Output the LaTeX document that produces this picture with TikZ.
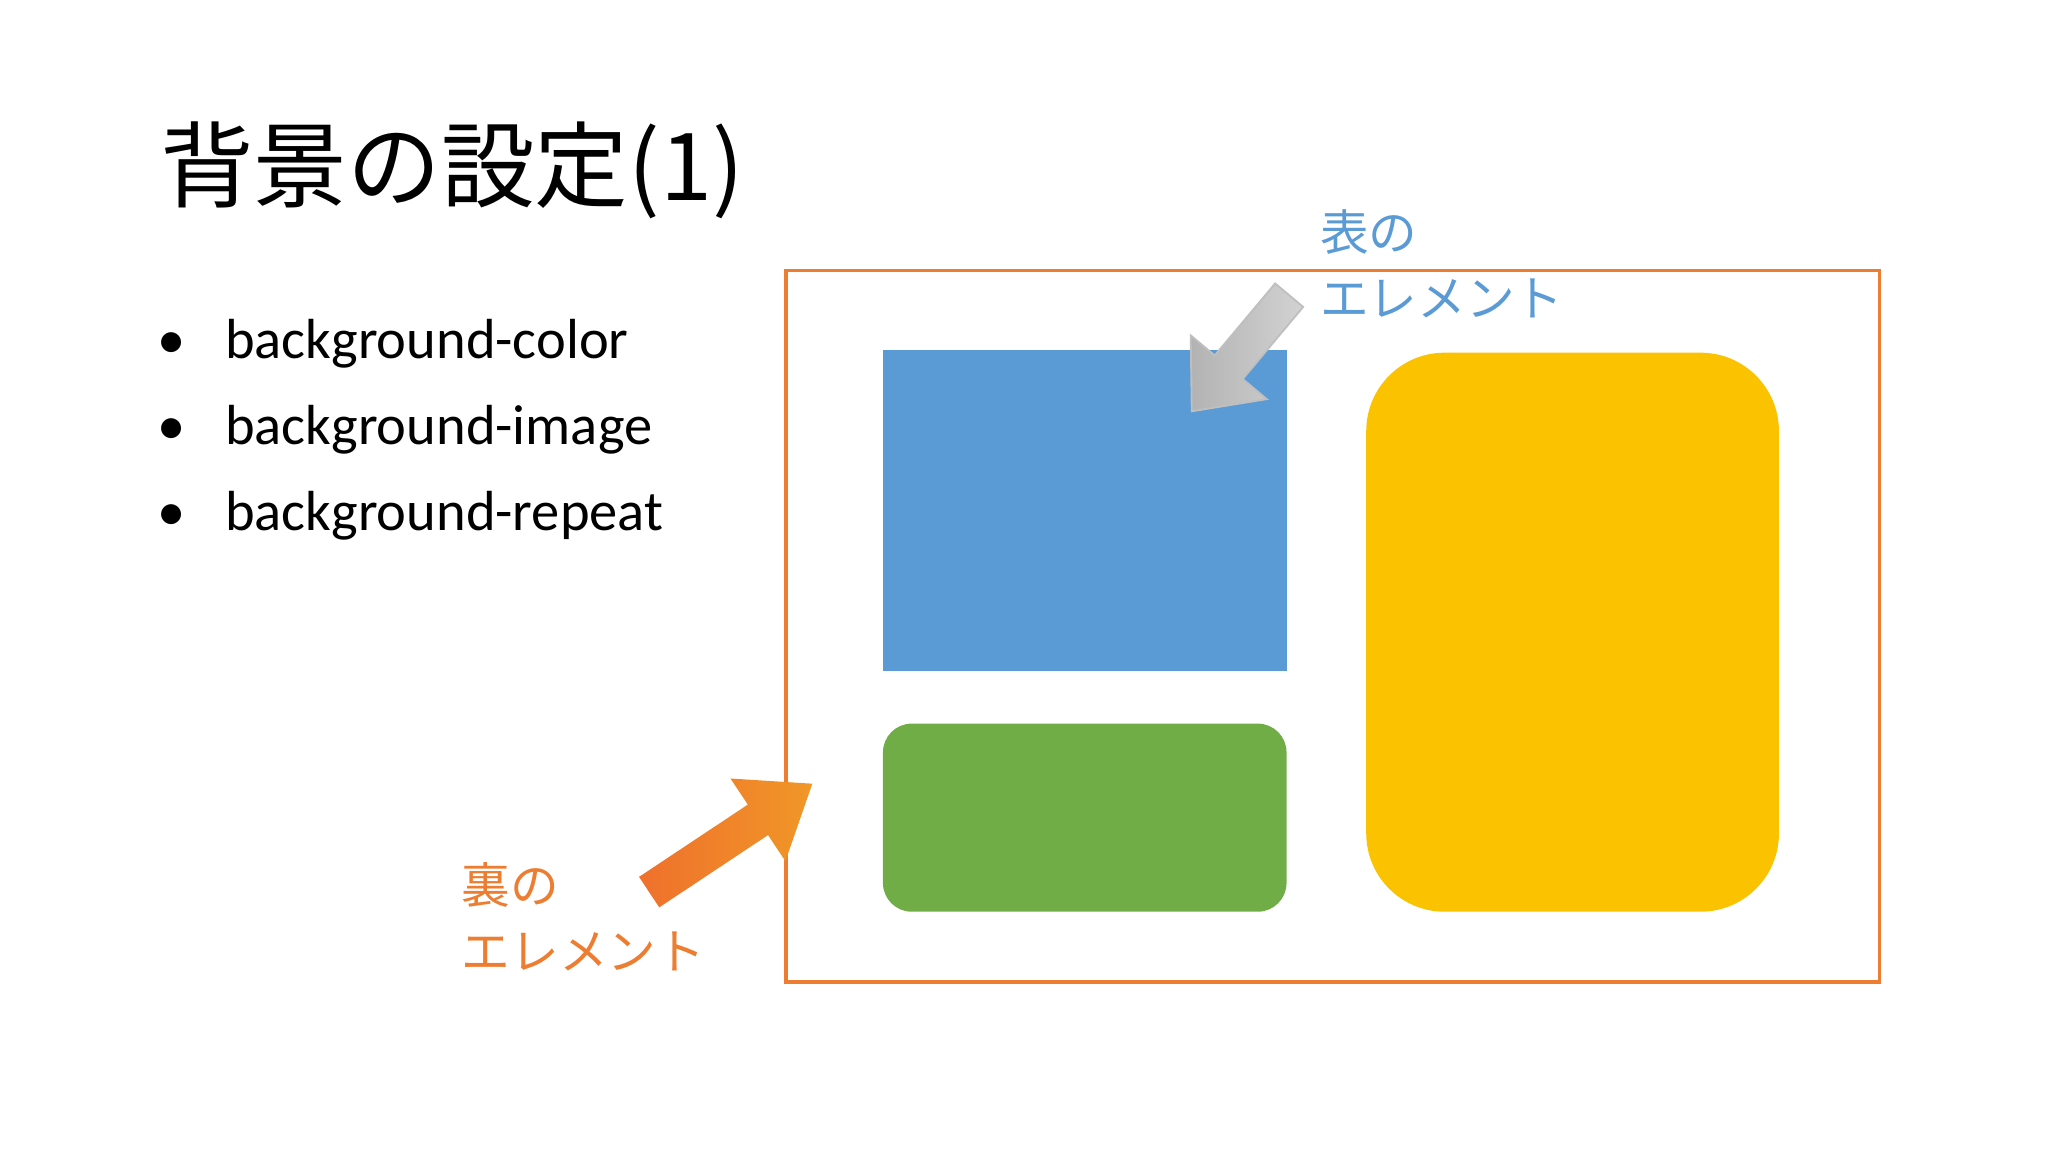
\documentclass[tikz,border=0pt]{standalone}
\usepackage{fontspec}
\setmainfont{Carlito}
\newfontfamily\cjk{Noto Sans CJK JP}
\definecolor{myblue}{HTML}{5B9BD5}
\definecolor{mygreen}{HTML}{70AD47}
\definecolor{myyellow}{HTML}{FBC200}
\definecolor{myorange}{HTML}{ED7D31}
\tikzset{
 bul/.style={anchor=west,font=\fontsize{12.3}{14}\selectfont,inner sep=0},
 lab/.style={anchor=west,font=\cjk\fontsize{10.6}{14.5}\selectfont,inner sep=0,align=left},
}
\begin{document}
\begin{tikzpicture}[x=1cm,y=1cm]
\useasboundingbox (0,0) rectangle (15.68,-8.82);
\node[anchor=west,inner sep=0,font=\cjk\fontsize{20.4}{24}\selectfont] (title) at (1.22,-1.30) {背景の設定(1)};
\node[bul] (b1) at (1.20,-2.63) {•\hspace{0.7em}background-color};
\node[bul] (b2) at (1.20,-3.29) {•\hspace{0.7em}background-image};
\node[bul] (b3) at (1.20,-3.95) {•\hspace{0.7em}background-repeat};
\draw[myorange,line width=0.8pt] (6.02,-2.07) rectangle (14.39,-7.52);
\fill[myblue] (6.76,-2.68) rectangle (9.85,-5.14);
\fill[mygreen,rounded corners=0.22cm] (6.76,-5.54) rectangle (9.85,-6.98);
\fill[myyellow,rounded corners=0.6cm] (10.46,-2.70) rectangle (13.62,-6.98);
\begin{scope}[shift={(9.87,-2.26)},rotate=-130]
 \shade[left color=gray!60,right color=gray!35,draw=gray!50] (0,-0.14) -- (0.72,-0.14) -- (0.72,-0.38) -- (1.16,0) -- (0.72,0.38) -- (0.72,0.14) -- (0,0.14) -- cycle;
\end{scope}
\begin{scope}[shift={(4.97,-6.83)},rotate=33.6]
 \shade[left color=myorange!90!red,right color=myorange!80!yellow] (0,-0.14) -- (1.0,-0.14) -- (1.0,-0.38) -- (1.5,0) -- (1.0,0.38) -- (1.0,0.14) -- (0,0.14) -- cycle;
\end{scope}
\node[lab,text=myblue] (front) at (10.10,-2.02) {表の\\エレメント};
\node[lab,text=myorange] (back) at (3.53,-7.02) {裏の\\エレメント};
\end{tikzpicture}
\end{document}
